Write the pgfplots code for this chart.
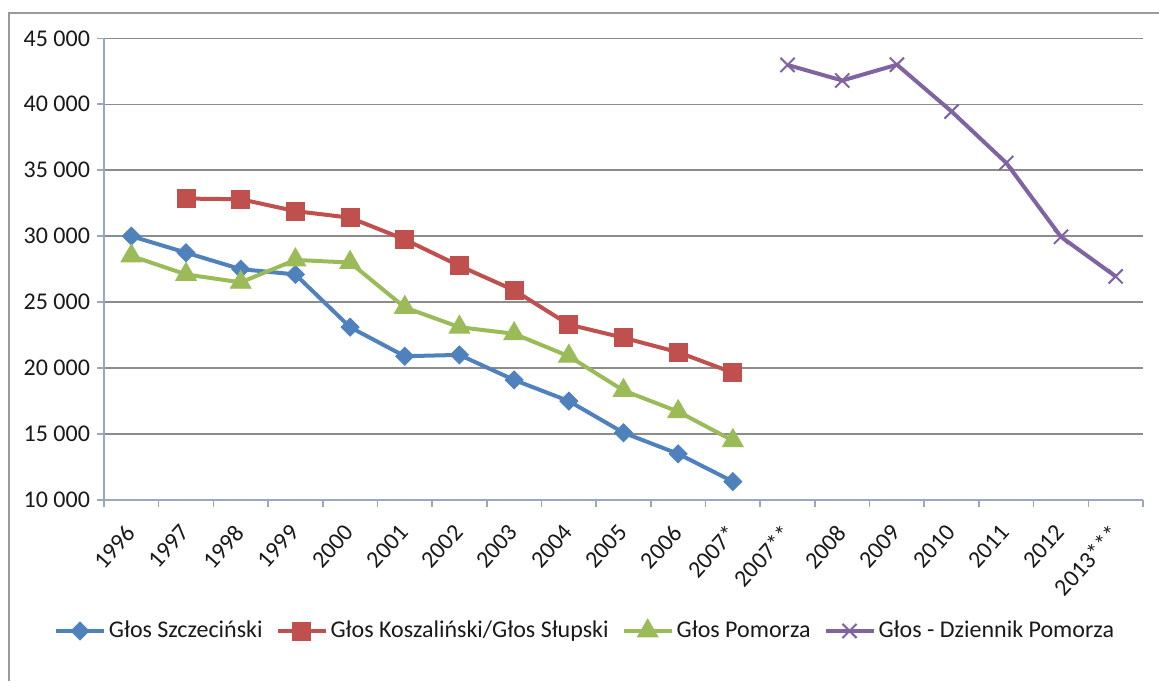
\documentclass[border=0pt]{standalone}
\usepackage{pgfplots}
\pgfplotsset{compat=1.18}
\usepackage{fontspec}
\setmainfont{Carlito}
\definecolor{cblue}{HTML}{4F81BD}
\definecolor{cred}{HTML}{C0504D}
\definecolor{cgreen}{HTML}{9BBB59}
\definecolor{cpurple}{HTML}{8064A2}
\definecolor{gridgray}{HTML}{8C8C8C}
\definecolor{axgray}{HTML}{98A9BF}
\definecolor{framegray}{HTML}{9A9A9A}
\begin{document}
\begin{tikzpicture}
\path[use as bounding box] (0,0) rectangle (579.5pt,340.5pt);
\draw[framegray, line width=1.2pt] (4.6pt,0pt) -- (4.6pt,334pt) -- (579.5pt,334pt);
\begin{axis}[
  at={(52pt,90.5pt)}, anchor=south west,
  scale only axis, width=519.5pt, height=230.85pt,
  xmin=-0.5, xmax=18.5, ymin=10000, ymax=45000,
  scaled y ticks=false,
  axis x line*=bottom, axis y line*=left,
  axis line style={draw=axgray, line width=0.8pt, -},
  tick align=outside,
  major tick length=3.5pt,
  minor tick length=3.5pt,
  tick style={draw=axgray, line width=0.8pt},
  xtick={0,1,2,3,4,5,6,7,8,9,10,11,12,13,14,15,16,17,18},
  xticklabels={1996,1997,1998,1999,2000,2001,2002,2003,2004,2005,2006,2007*,2007**,2008,2009,2010,2011,2012,2013***},
  minor xtick={-0.5,0.5,1.5,2.5,3.5,4.5,5.5,6.5,7.5,8.5,9.5,10.5,11.5,12.5,13.5,14.5,15.5,16.5,17.5,18.5},
  major x tick style={draw=none},
  xticklabel style={xshift=-3.5pt, yshift=-6.5pt, rotate=48, anchor=north east, font=\fontsize{12}{14}\selectfont, text=black!90, inner sep=1pt},
  ytick={10000,15000,20000,25000,30000,35000,40000,45000},
  yticklabels={10 000,15 000,20 000,25 000,30 000,35 000,40 000,45 000},
  yticklabel style={font=\fontsize{12}{14}\selectfont, text=black!90},
  ymajorgrids, grid style={draw=gridgray, line width=0.75pt},
  legend style={draw=none, fill=none, at={(0.4634,-0.2837)}, anchor=center,
    font=\fontsize{12}{14}\selectfont, text=black!90,
    /tikz/every even column/.append style={column sep=5pt},
    nodes={inner xsep=1.5pt}},
  legend columns=4,
  legend image code/.code={\draw[mark repeat=2,mark phase=2,#1] plot coordinates {(0pt,0pt)(12pt,0pt)(24pt,0pt)};},
  every axis plot/.append style={line width=2pt},
]
\addplot[cblue, mark=square*, mark size=3.2pt, mark options={rotate=45, line width=0.4pt, fill=cblue}]
 coordinates {(0,30000)(1,28750)(2,27500)(3,27100)(4,23100)(5,20900)(6,21000)(7,19100)(8,17500)(9,15100)(10,13500)(11,11400)};
\addlegendentry{Głos Szczeciński}
\addplot[cred, mark=square*, mark size=4.5pt, mark options={line width=0.4pt, fill=cred}]
 coordinates {(1,32850)(2,32800)(3,31900)(4,31400)(5,29750)(6,27750)(7,25900)(8,23300)(9,22300)(10,21200)(11,19650)};
\addlegendentry{Głos Koszaliński/Głos Słupski}
\addplot[cgreen, mark=triangle*, mark size=6pt, mark options={line width=0.4pt, fill=cgreen}]
 coordinates {(0,28500)(1,27100)(2,26500)(3,28200)(4,28000)(5,24600)(6,23100)(7,22600)(8,20900)(9,18300)(10,16700)(11,14500)};
\addlegendentry{Głos Pomorza}
\addplot[cpurple, mark=x, mark size=5pt, mark options={line width=1pt}]
 coordinates {(12,42980)(13,41800)(14,43000)(15,39450)(16,35550)(17,29950)(18,26950)};
\addlegendentry{Głos - Dziennik Pomorza}
\end{axis}
\end{tikzpicture}
\end{document}
